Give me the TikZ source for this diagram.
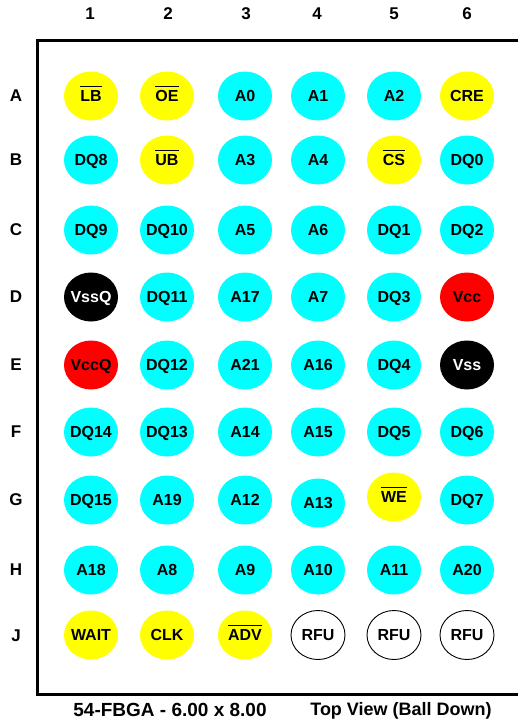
\documentclass[tikz,border=0pt]{standalone}
\usepackage{fontspec}
\setmainfont{Liberation Sans}
\usetikzlibrary{shapes.geometric}
\definecolor{ballcyan}{RGB}{0,255,255}
\definecolor{ballyellow}{RGB}{255,255,0}
\definecolor{ballred}{RGB}{255,0,0}
\newcommand{\nbar}[1]{\leavevmode\vbox{\hrule height 1.5pt\kern 3.5pt\hbox{#1}}}
\begin{document}
\begin{tikzpicture}[x=1pt,y=-1pt,
  balltext/.style={inner sep=0pt, text height=11.5pt, text depth=0pt,
    font=\fontsize{16}{16}\selectfont\bfseries},
  ball/.style={ellipse, minimum width=54pt, minimum height=49pt, inner sep=0pt},
  ballc/.style={ball, fill=ballcyan, label={[balltext]center:#1}},
  bally/.style={ball, fill=ballyellow, label={[balltext]center:#1}},
  ballr/.style={ball, fill=ballred, label={[balltext]center:#1}},
  ballk/.style={ball, fill=black, label={[balltext, text=white]center:#1}},
  ballw/.style={ball, draw=black, line width=0.9pt, fill=white, label={[balltext]center:#1}},
  lbl/.style={font=\fontsize{17}{18}\selectfont\bfseries}]
\useasboundingbox (0,0) rectangle (518,721);
\draw[line width=3pt] (522,40.5) -- (37.5,40.5) -- (37.5,694.5) -- (522,694.5);
% column and row labels
\node[lbl] (c1) at (90,14){1};
\node[lbl] (c2) at (168,14){2};
\node[lbl] (c3) at (246,14){3};
\node[lbl] (c4) at (317,14){4};
\node[lbl] (c5) at (394,14){5};
\node[lbl] (c6) at (467,14){6};
\node[lbl] (rA) at (16,96){A};
\node[lbl] (rB) at (16,160){B};
\node[lbl] (rC) at (16,230){C};
\node[lbl] (rD) at (16,297){D};
\node[lbl] (rE) at (16,365){E};
\node[lbl] (rF) at (16,432){F};
\node[lbl] (rG) at (16,500){G};
\node[lbl] (rH) at (16,570){H};
\node[lbl] (rJ) at (16,636){J};
% row A
\node[bally={\nbar{LB}}] (pA1) at (91,96){};
\node[bally={\nbar{OE}}] (pA2) at (167,96){};
\node[ballc=A0] (pA3) at (245,96){};
\node[ballc=A1] (pA4) at (318,96){};
\node[ballc=A2] (pA5) at (394,96){};
\node[bally=CRE] (pA6) at (467,96){};
% row B
\node[ballc=DQ8] (pB1) at (91,160){};
\node[bally={\nbar{UB}}] (pB2) at (167,160){};
\node[ballc=A3] (pB3) at (245,160){};
\node[ballc=A4] (pB4) at (318,160){};
\node[bally={\nbar{CS}}] (pB5) at (394,160){};
\node[ballc=DQ0] (pB6) at (467,160){};
% row C
\node[ballc=DQ9] (pC1) at (91,230){};
\node[ballc=DQ10] (pC2) at (167,230){};
\node[ballc=A5] (pC3) at (245,230){};
\node[ballc=A6] (pC4) at (318,230){};
\node[ballc=DQ1] (pC5) at (394,230){};
\node[ballc=DQ2] (pC6) at (467,230){};
% row D
\node[ballk=VssQ] (pD1) at (91,297){};
\node[ballc=DQ11] (pD2) at (167,297){};
\node[ballc=A17] (pD3) at (245,297){};
\node[ballc=A7] (pD4) at (318,297){};
\node[ballc=DQ3] (pD5) at (394,297){};
\node[ballr=Vcc] (pD6) at (467,297){};
% row E
\node[ballr=VccQ] (pE1) at (91,365){};
\node[ballc=DQ12] (pE2) at (167,365){};
\node[ballc=A21] (pE3) at (245,365){};
\node[ballc=A16] (pE4) at (318,365){};
\node[ballc=DQ4] (pE5) at (394,365){};
\node[ballk=Vss] (pE6) at (467,365){};
% row F
\node[ballc=DQ14] (pF1) at (91,432){};
\node[ballc=DQ13] (pF2) at (167,432){};
\node[ballc=A14] (pF3) at (245,432){};
\node[ballc=A15] (pF4) at (318,432){};
\node[ballc=DQ5] (pF5) at (394,432){};
\node[ballc=DQ6] (pF6) at (467,432){};
% row G
\node[ballc=DQ15] (pG1) at (91,500){};
\node[ballc=A19] (pG2) at (167,500){};
\node[ballc=A12] (pG3) at (245,500){};
\node[ballc=A13] (pG4) at (318,503){};
\node[bally={\nbar{WE}}] (pG5) at (394,497){};
\node[ballc=DQ7] (pG6) at (467,500){};
% row H
\node[ballc=A18] (pH1) at (91,570){};
\node[ballc=A8] (pH2) at (167,570){};
\node[ballc=A9] (pH3) at (245,570){};
\node[ballc=A10] (pH4) at (318,570){};
\node[ballc=A11] (pH5) at (394,570){};
\node[ballc=A20] (pH6) at (467,570){};
% row J
\node[bally=WAIT] (pJ1) at (91,635){};
\node[bally=CLK] (pJ2) at (167,635){};
\node[bally={\nbar{ADV}}] (pJ3) at (245,635){};
\node[ballw=RFU] (pJ4) at (318,635){};
\node[ballw=RFU] (pJ5) at (394,635){};
\node[ballw=RFU] (pJ6) at (467,635){};
% caption
\node[anchor=base, font=\fontsize{19}{20}\selectfont\bfseries] (pkg) at (170,716){54-FBGA - 6.00 x 8.00};
\node[anchor=base, font=\fontsize{18}{19}\selectfont\bfseries] (view) at (401,715){Top View (Ball Down)};
\end{tikzpicture}
\end{document}
